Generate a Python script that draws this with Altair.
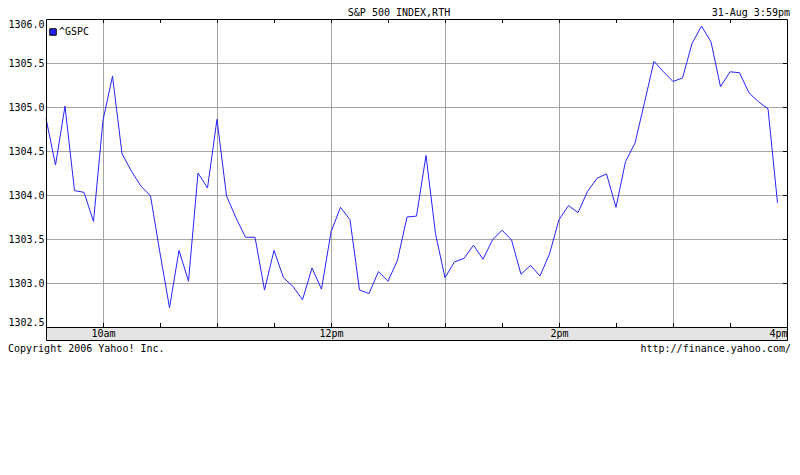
import altair as alt
import pandas as pd

# ---- data ----
title_text = "S&P 500 INDEX,RTH"
stamp_text = "31-Aug 3:59pm"
footer_left = "Copyright 2006 Yahoo! Inc."
footer_right = "http://finance.yahoo.com/"
series_name = "^GSPC"

# 5-minute samples from 9:30 to 3:55
values = [
    1304.87, 1304.34, 1305.01, 1304.05, 1304.03, 1303.70,
    1304.85, 1305.35, 1304.47, 1304.27, 1304.10, 1303.99,
    1303.34, 1302.72, 1303.37, 1303.02, 1304.25, 1304.08,
    1304.86, 1303.99, 1303.74, 1303.52, 1303.52, 1302.92,
    1303.37, 1303.06, 1302.96, 1302.81, 1303.17, 1302.93,
    1303.58, 1303.86, 1303.72, 1302.92, 1302.88, 1303.13,
    1303.02, 1303.26, 1303.75, 1303.76, 1304.45, 1303.56,
    1303.06, 1303.24, 1303.28, 1303.43, 1303.27, 1303.49,
    1303.60, 1303.49, 1303.10, 1303.20, 1303.08, 1303.33,
    1303.72, 1303.88, 1303.80, 1304.04, 1304.19, 1304.24,
    1303.86, 1304.38, 1304.59, 1305.05, 1305.52, 1305.40,
    1305.29, 1305.33, 1305.72, 1305.92, 1305.74, 1305.23,
    1305.40, 1305.39, 1305.16, 1305.06, 1304.98, 1303.91,
]
minutes = [5 * i for i in range(len(values))]  # minutes after 9:30

x_grid_values = [30, 90, 150, 210, 270, 330]
x_label_values = [30, 150, 270, 390]
x_label_texts = ["10am", "12pm", "2pm", "4pm"]
half_hour_ticks = [30, 60, 90, 120, 150, 180, 210, 240, 270, 300, 330, 360]
y_tick_values = [1302.5, 1303.0, 1303.5, 1304.0, 1304.5, 1305.0, 1305.5, 1306.0]
y_grid_values = [1303.0, 1303.5, 1304.0, 1304.5, 1305.0, 1305.5]

MONO = "DejaVu Sans Mono"
LINE_COLOR = "#2424ff"
GRID_COLOR = "#a4a4a4"
W, H, BAND = 741, 308, 13
PAD_L, PAD_T, PAD_R, PAD_B = 38, 11, 5, 40

df = pd.DataFrame({"t": minutes, "v": values, "series": series_name})
ticks_df = pd.DataFrame({"t": half_hour_ticks})
yticks_df = pd.DataFrame({"v": y_tick_values})
xgrid_df = pd.DataFrame({"t": x_grid_values})
ygrid_df = pd.DataFrame({"v": y_grid_values})
one = pd.DataFrame({"a": [0]})

label_expr = ""
for val, txt in zip(x_label_values, x_label_texts):
    label_expr += f"datum.value == {val} ? '{txt}' : "
label_expr += "''"

x_scale = alt.Scale(domain=[0, 390], nice=False, zero=False)
y_scale = alt.Scale(domain=[1302.5, 1306.0], nice=False, zero=False)

band = alt.Chart(one).mark_rect(color="#e4e4e4").encode(
    x=alt.value(0), x2=alt.value(W), y=alt.value(H), y2=alt.value(H + BAND)
)

vgrid = alt.Chart(xgrid_df).mark_rule(color=GRID_COLOR, xOffset=0.5).encode(
    x=alt.X("t:Q", scale=x_scale, axis=alt.Axis(
        values=x_label_values, labelExpr=label_expr, grid=False, domain=False,
        ticks=False, labelFlush=True, labelPadding=1, title="", zindex=1)),
    y=alt.value(0), y2=alt.value(H),
)
hgrid = alt.Chart(ygrid_df).mark_rule(color=GRID_COLOR, yOffset=0.5).encode(
    y=alt.Y("v:Q", scale=y_scale, axis=alt.Axis(
        values=y_tick_values, format=".1f", grid=False, domain=False,
        ticks=False, labelFlush=True, labelPadding=2, title="", zindex=1)),
    x=alt.value(0), x2=alt.value(W),
)

line = alt.Chart(df).mark_line(color=LINE_COLOR, strokeWidth=1).encode(
    x=alt.X("t:Q", scale=x_scale),
    y=alt.Y("v:Q", scale=y_scale),
)

legend_layer = alt.Chart(df).mark_square(size=0, filled=True, opacity=1).encode(
    x=alt.X("t:Q", scale=x_scale),
    y=alt.Y("v:Q", scale=y_scale),
    color=alt.Color("series:N",
                    scale=alt.Scale(domain=[series_name], range=[LINE_COLOR]),
                    legend=alt.Legend(title="", orient="none", legendX=2, legendY=8,
                                      symbolType="square", symbolSize=42,
                                      symbolStrokeColor="black", symbolStrokeWidth=1,
                                      labelFont=MONO, labelFontSize=10, labelColor="black",
                                      labelOffset=1, padding=0)),
)

top_ticks = alt.Chart(ticks_df).mark_rule(color="black", xOffset=0.5).encode(
    x=alt.X("t:Q", scale=x_scale), y=alt.value(0), y2=alt.value(4)
)
bottom_ticks = alt.Chart(ticks_df).mark_rule(color="black", xOffset=0.5).encode(
    x=alt.X("t:Q", scale=x_scale), y=alt.value(H - 4), y2=alt.value(H)
)
right_ticks = alt.Chart(yticks_df).mark_rule(color="black", yOffset=0.5).encode(
    y=alt.Y("v:Q", scale=y_scale), x=alt.value(W - 4), x2=alt.value(W)
)

border = alt.Chart(one).mark_rect(fillOpacity=0, stroke="black", strokeWidth=1).encode(
    x=alt.value(0.5), x2=alt.value(W + 0.5), y=alt.value(0.5), y2=alt.value(H + BAND + 0.5)
)
band_line = alt.Chart(one).mark_rule(color="black").encode(
    x=alt.value(0), x2=alt.value(W), y=alt.value(H + 0.5)
)

header = alt.Chart(pd.DataFrame({"text": [title_text]})).mark_text(
    font=MONO, fontSize=10, align="center", baseline="middle", color="black"
).encode(text="text:N", x=alt.value(353), y=alt.value(-6))
stamp = alt.Chart(pd.DataFrame({"text": [stamp_text]})).mark_text(
    font=MONO, fontSize=10, align="right", baseline="middle", color="black"
).encode(text="text:N", x=alt.value(W + 3), y=alt.value(-6))
foot_l = alt.Chart(pd.DataFrame({"text": [footer_left]})).mark_text(
    font=MONO, fontSize=10, align="left", baseline="middle", color="black"
).encode(text="text:N", x=alt.value(-PAD_L), y=alt.value(H + 22))
foot_r = alt.Chart(pd.DataFrame({"text": [footer_right]})).mark_text(
    font=MONO, fontSize=10, align="right", baseline="middle", color="black"
).encode(text="text:N", x=alt.value(W + 4), y=alt.value(H + 22))

chart = alt.layer(
    vgrid, hgrid, band, line, legend_layer, top_ticks, bottom_ticks, right_ticks,
    border, band_line, header, stamp, foot_l, foot_r
).properties(
    width=W, height=H, autosize="none",
    padding={"left": PAD_L, "top": PAD_T, "right": PAD_R, "bottom": PAD_B},
).configure_view(stroke=None).configure_axis(
    labelFont=MONO, labelFontSize=10, labelColor="black",
)

chart.save("out.html", embed_options={"renderer": "svg", "actions": False})
